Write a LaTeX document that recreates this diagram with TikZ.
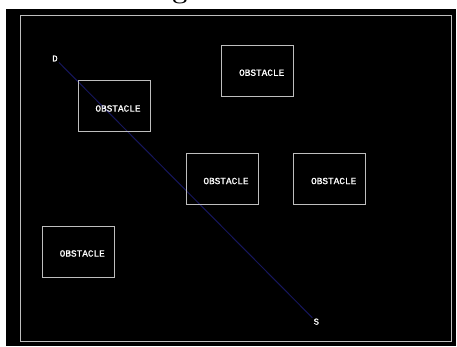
\documentclass[tikz,border=0pt]{standalone}
\usepackage{fontspec}
\newfontfamily\pixfont{Liberation Mono}[FakeBold=1.2]
\definecolor{pathblue}{RGB}{22,22,92}
\definecolor{boxgray}{RGB}{190,190,190}
\begin{document}
\begin{tikzpicture}[x=1pt,y=-1pt,
  obstacle/.style={draw=boxgray,line width=1pt,minimum width=72pt,minimum height=51pt,inner sep=0pt},
  obslabel/.style={text=white,font=\pixfont\fontsize{9.4}{10}\selectfont,inner sep=0pt},
  endpoint/.style={text=white,font=\pixfont\fontsize{9}{10}\selectfont,inner sep=1pt}]
\useasboundingbox (0,0) rectangle (457,347);
\fill[white] (0,0) rectangle (457,347);
\node[font=\bfseries\fontsize{27}{30}\selectfont,anchor=base,inner sep=0pt] (title) at (180,-1.5) {g};
\fill[black] (6,9) rectangle (456,346);
\draw[boxgray,line width=1pt] (20.5,16) rectangle (451,341);
% endpoints and path
\node[endpoint] (D) at (55,58.5) {D};
\node[endpoint] (S) at (316.3,321.7) {S};
\draw[pathblue,line width=1pt] (D) -- (S);
% obstacles
\node[obstacle] (o1) at (114,106.5) {};
\node[obslabel] (t1) at ([xshift=4pt,yshift=-2pt]o1.center) {OBSTACLE};
\node[obstacle] (o2) at (257.7,70.7) {};
\node[obslabel] (t2) at ([xshift=4pt,yshift=-2pt]o2.center) {OBSTACLE};
\node[obstacle] (o3) at (222,179) {};
\node[obslabel] (t3) at ([xshift=4pt,yshift=-2pt]o3.center) {OBSTACLE};
\node[obstacle] (o4) at (329.7,179) {};
\node[obslabel] (t4) at ([xshift=4pt,yshift=-2pt]o4.center) {OBSTACLE};
\node[obstacle] (o5) at (78.3,251.5) {};
\node[obslabel] (t5) at ([xshift=4pt,yshift=-2pt]o5.center) {OBSTACLE};
\end{tikzpicture}
\end{document}
